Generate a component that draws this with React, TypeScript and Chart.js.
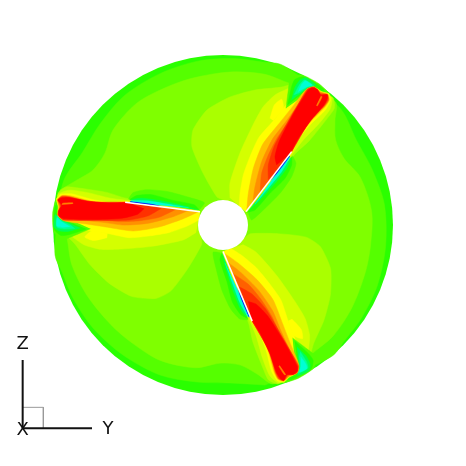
import React, { useEffect, useRef } from "react";
import { Chart, registerables } from "chart.js";

Chart.register(...registerables);

type P = number[];

const hub: P = [9, 525];
const bladeTurns = [0, 120, 240];
const ringTurns = [0, -120, -240];

const ringOuter: P[] = [[135,1005],[30,999],[-69,996],[-180,975],[-291,915],[-381,834],[-441,744],[-474,666],[-495,615],[-489,525]];
const ringInner: P[] = [[-480,420],[-429,390],[-381,360],[-345,309],[-321,240],[-249,159],[-159,111],[-81,84],[30,66],[130,72],[195,95]];

const lobeA: P[] = [[12,450],[-9,441],[-51,369],[-84,291],[-81,240],[-39,180],[30,141],[105,120],[180,112],[228,102],[310,130],[340,145],[343,175],[322,205],[268,272],[225,312],[84,486]];
const lobeB: P[] = [[30,444],[30,399],[60,309],[99,225],[129,171],[165,135],[195,120],[228,108],[305,125],[336,142],[330,178],[296,222],[248,272],[215,315],[78,486]];
const spotY: P[] = [[150,205],[163,165],[185,148],[190,175],[160,212]];
const yellow: P[] = [[58,470],[60,430],[70,375],[90,320],[117,262],[165,207],[205,157],[252,118],[280,108],[305,125],[326,130],[332,150],[316,180],[275,220],[237,265],[215,310],[78,485]];

const tongue55: P[] = [[198,175],[205,120],[212,85],[245,75],[295,100],[325,128],[290,112],[240,145]];
const tongue2a: P[] = [[203,165],[215,110],[225,88],[250,80],[290,102],[312,120],[270,110],[235,140]];
const tongue00: P[] = [[215,150],[225,112],[240,90],[258,83],[288,105],[270,110],[235,135]];
const tongue80: P[] = [[222,135],[238,105],[253,90],[282,108],[265,110],[235,130]];
const tongueD4: P[] = [[235,125],[245,103],[256,92],[276,105],[262,110]];

const orangeC: P[] = [[80,482],[85,430],[100,355],[128,283],[176,222],[220,167],[257,120],[282,110],[303,126],[323,132],[328,150],[314,172],[272,215],[235,262],[215,305]];
const orange9: P[] = [[98,462],[105,410],[125,335],[157,268],[196,217],[235,162],[260,117],[282,111],[302,127],[322,134],[326,150],[313,170],[271,213],[233,262],[215,305]];
const orange6: P[] = [[120,430],[125,370],[145,315],[172,263],[211,207],[261,119],[283,112],[302,130],[322,134],[325,150],[313,168],[270,212],[215,305]];
const orange3: P[] = [[145,390],[145,345],[163,288],[191,237],[262,119],[283,112],[301,132],[322,134],[324,148],[313,166],[270,211],[213,308]];
const red: P[] = [[170,345],[165,320],[178,273],[220,192],[264,121],[276,113],[292,118],[302,135],[315,134],[322,134],[322,145],[312,165],[272,212],[237,262],[210,312]];
const notch: P[] = [[303,137],[306,141],[292,168],[289,166]];

const press55: P[] = [[85,490],[95,510],[130,480],[180,430],[215,380],[228,340],[218,318]];
const press2a: P[] = [[82,487],[105,480],[150,430],[195,385],[215,345],[215,320]];
const press00: P[] = [[85,483],[120,450],[165,400],[200,355],[213,325]];
const pressD4: P[] = [[105,462],[150,408],[185,365],[210,322],[205,318]];
const pressBlue: P[] = [[150,392],[172,368],[209,318],[180,350]];
const bladeEdge: P[] = [[78,485],[215,305]];

const axisZ: P[] = [[-592,930],[-592,1135]];
const axisY: P[] = [[-592,1135],[-384,1135]];
const boxLines: P[] = [[-592,1072],[-530,1072],[-530,1135]];
const axisLabels = ["Z", "Y", "X"];
const labelSpots: P[] = [[-592,882],[-336,1137],[-592,1140]];

const turn = (pts: P[], deg: number) => {
  const a = (deg * Math.PI) / 180;
  const c = Math.cos(a);
  const s = Math.sin(a);
  return pts.map(([x, y]) => {
    const dx = x - hub[0];
    const dy = y - hub[1];
    return { x: hub[0] + dx * c + dy * s, y: hub[1] - dx * s + dy * c };
  });
};

const ring = (pts: P[]) => {
  const all = ringTurns.flatMap((d) => turn(pts, d));
  return [...all, all[0]];
};

const shape = (data: { x: number; y: number }[], color: string, tension = 0.2) => ({
  data,
  showLine: true,
  fill: "shape",
  backgroundColor: color,
  borderColor: color,
  borderWidth: 0.5,
  pointRadius: 0,
  tension,
});

const stroke = (pts: P[], color: string, width: number) => ({
  data: pts.map(([x, y]) => ({ x, y })),
  showLine: true,
  fill: false,
  borderColor: color,
  borderWidth: width,
  pointRadius: 0,
  tension: 0,
});

const dot = (color: string, radius: number) => ({
  data: [{ x: hub[0], y: hub[1] }],
  showLine: false,
  pointRadius: radius,
  pointBackgroundColor: color,
  pointBorderWidth: 0,
  clip: false,
});

const bladeLayers: [P[], string][] = [
  [lobeA, "#aaff00"],
  [lobeB, "#d4ff00"],
  [spotY, "#ffff00"],
  [yellow, "#ffff00"],
  [tongue55, "#55ff00"],
  [tongue2a, "#2aff00"],
  [tongue00, "#00ff55"],
  [tongue80, "#00ff99"],
  [tongueD4, "#00ffd4"],
  [press55, "#55ff00"],
  [press2a, "#2aff00"],
  [press00, "#00ff55"],
  [pressD4, "#00ffd4"],
  [pressBlue, "#0000ff"],
  [orangeC, "#ffc000"],
  [orange9, "#ff9000"],
  [orange6, "#ff6000"],
  [orange3, "#ff3000"],
  [red, "#ff0000"],
  [notch, "#ff8000"],
];

const labelPlugin = {
  id: "triadLabels",
  afterDatasetsDraw(chart: any) {
    const { ctx, scales } = chart;
    ctx.save();
    ctx.fillStyle = "#111111";
    ctx.font = '18px "DejaVu Sans"';
    ctx.textAlign = "center";
    ctx.textBaseline = "middle";
    axisLabels.forEach((t, i) => {
      ctx.fillText(t, scales.x.getPixelForValue(labelSpots[i][0]), scales.y.getPixelForValue(labelSpots[i][1]));
    });
    ctx.restore();
  },
};

export default function App() {
  const ref = useRef<HTMLCanvasElement>(null);
  useEffect(() => {
    const painted: any[] = [
      dot("#2aff00", 170),
      shape(ring(ringOuter), "#55ff00", 0.3),
      shape(ring(ringInner), "#7fff00", 0.3),
    ];
    bladeTurns.forEach((d) => {
      bladeLayers.forEach(([pts, color]) => painted.push(shape(turn(pts, d), color)));
      painted.push({ ...stroke(bladeEdge, "#ffffff", 1.5), data: turn(bladeEdge, d) });
    });
    painted.push(dot("#ffffff", 25));
    painted.push(stroke(boxLines, "#999999", 1));
    painted.push(stroke(axisZ, "#111111", 2));
    painted.push(stroke(axisY, "#111111", 2));

    const chart = new Chart(ref.current as HTMLCanvasElement, {
      type: "scatter",
      data: { datasets: painted.reverse() },
      options: {
        animation: false,
        responsive: false,
        layout: { padding: 0, autoPadding: false },
        plugins: { legend: { display: false }, tooltip: { enabled: false } },
        scales: {
          x: { type: "linear", display: false, min: -660, max: 738 },
          y: { type: "linear", display: false, min: -150, max: 1248, reverse: true },
        },
      },
      plugins: [labelPlugin],
    } as any);
    return () => chart.destroy();
  }, []);
  return (
    <div style={{ position: "fixed", left: 0, top: 0, width: 466, height: 466, background: "#ffffff" }}>
      <canvas ref={ref} width={466} height={466} style={{ display: "block" }} />
    </div>
  );
}
